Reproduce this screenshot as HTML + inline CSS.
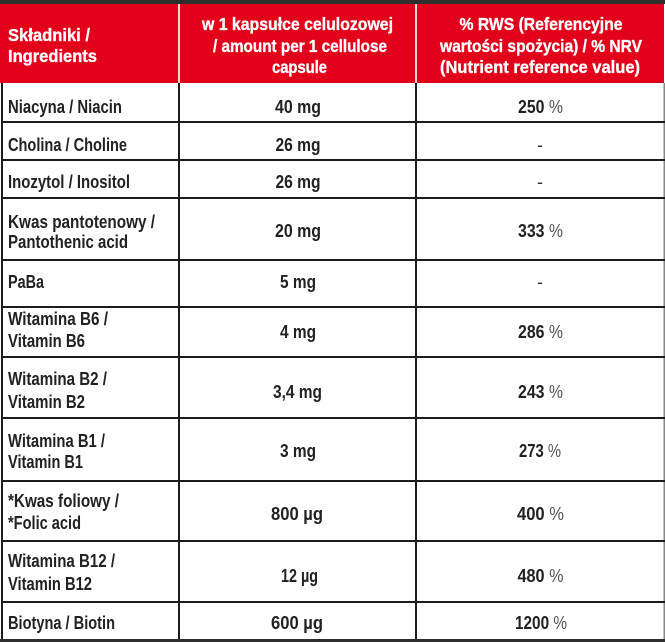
<!DOCTYPE html>
<html>
<head>
<meta charset="utf-8">
<style>
  html,body{margin:0;padding:0;background:#fff;}
  svg{display:block;}
  .h{font-family:"Liberation Sans",sans-serif;font-weight:bold;font-size:17.5px;fill:#fff;stroke:#fff;stroke-width:0.35px;}
  .b{font-family:"Liberation Sans",sans-serif;font-weight:bold;font-size:18px;fill:#222;}
  .p{font-weight:normal;fill:#555;}
  .d{font-family:"Liberation Sans",sans-serif;font-weight:normal;font-size:18px;fill:#333;}
</style>
</head>
<body>
<svg width="665" height="642" viewBox="0 0 665 642" xmlns="http://www.w3.org/2000/svg">
  <rect x="0" y="0" width="665" height="642" fill="#fff"/>
  <!-- header -->
  <rect x="0" y="0" width="664" height="83" fill="#e2001a"/>
  <rect x="0" y="0" width="665" height="4" fill="#2e2e2e"/>
  <rect x="178" y="4" width="2" height="79" fill="#f7d3d3"/>
  <rect x="415" y="4" width="2" height="79" fill="#f7d3d3"/>

  <text class="h" x="8" y="41" textLength="82" lengthAdjust="spacingAndGlyphs">Składniki /</text>
  <text class="h" x="8" y="62" textLength="89" lengthAdjust="spacingAndGlyphs">Ingredients</text>

  <text class="h" x="297.5" y="30" text-anchor="middle" textLength="191" lengthAdjust="spacingAndGlyphs">w 1 kapsułce celulozowej</text>
  <text class="h" x="300" y="52" text-anchor="middle" textLength="174" lengthAdjust="spacingAndGlyphs">/ amount per 1 cellulose</text>
  <text class="h" x="299.5" y="73" text-anchor="middle" textLength="55" lengthAdjust="spacingAndGlyphs">capsule</text>

  <text class="h" x="541" y="30" text-anchor="middle" textLength="163" lengthAdjust="spacingAndGlyphs">% RWS (Referencyjne</text>
  <text class="h" x="541" y="52" text-anchor="middle" textLength="202" lengthAdjust="spacingAndGlyphs">wartości spożycia) / % NRV</text>
  <text class="h" x="540" y="73" text-anchor="middle" textLength="200" lengthAdjust="spacingAndGlyphs">(Nutrient reference value)</text>

  <!-- grid -->
  <g fill="#1c1c1c">
    <rect x="1" y="83" width="2" height="559"/>
    <rect x="178" y="83" width="2" height="559"/>
    <rect x="415" y="83" width="2" height="559"/>
    <rect x="663.5" y="83" width="1.5" height="559" fill="#888"/>
    <rect x="1" y="121" width="664" height="2"/>
    <rect x="1" y="159" width="664" height="2"/>
    <rect x="1" y="197" width="664" height="2"/>
    <rect x="1" y="259" width="664" height="2"/>
    <rect x="1" y="306" width="664" height="2"/>
    <rect x="1" y="356" width="664" height="2"/>
    <rect x="1" y="417" width="664" height="2"/>
    <rect x="1" y="480" width="664" height="2"/>
    <rect x="1" y="540" width="664" height="2"/>
    <rect x="1" y="601" width="664" height="2"/>
    <rect x="0" y="639" width="665" height="3" fill="#2e2e2e"/>
  </g>

  <!-- rows: column 1 -->
  <text class="b" x="8" y="113" textLength="114" lengthAdjust="spacingAndGlyphs">Niacyna / Niacin</text>
  <text class="b" x="8" y="151" textLength="119" lengthAdjust="spacingAndGlyphs">Cholina / Choline</text>
  <text class="b" x="8" y="188" textLength="122" lengthAdjust="spacingAndGlyphs">Inozytol / Inositol</text>
  <text class="b" x="8" y="228" textLength="147" lengthAdjust="spacingAndGlyphs">Kwas pantotenowy /</text>
  <text class="b" x="8" y="248" textLength="120" lengthAdjust="spacingAndGlyphs">Pantothenic acid</text>
  <text class="b" x="8" y="288" textLength="36" lengthAdjust="spacingAndGlyphs">PaBa</text>
  <text class="b" x="8" y="325" textLength="100" lengthAdjust="spacingAndGlyphs">Witamina B6 /</text>
  <text class="b" x="8" y="347" textLength="77" lengthAdjust="spacingAndGlyphs">Vitamin B6</text>
  <text class="b" x="8" y="385" textLength="99" lengthAdjust="spacingAndGlyphs">Witamina B2 /</text>
  <text class="b" x="8" y="408" textLength="77" lengthAdjust="spacingAndGlyphs">Vitamin B2</text>
  <text class="b" x="8" y="447" textLength="97" lengthAdjust="spacingAndGlyphs">Witamina B1 /</text>
  <text class="b" x="8" y="468" textLength="75" lengthAdjust="spacingAndGlyphs">Vitamin B1</text>
  <text class="b" x="8" y="507" textLength="111" lengthAdjust="spacingAndGlyphs">*Kwas foliowy /</text>
  <text class="b" x="8" y="529" textLength="73" lengthAdjust="spacingAndGlyphs">*Folic acid</text>
  <text class="b" x="8" y="567" textLength="107" lengthAdjust="spacingAndGlyphs">Witamina B12 /</text>
  <text class="b" x="8" y="590" textLength="84" lengthAdjust="spacingAndGlyphs">Vitamin B12</text>
  <text class="b" x="8" y="629" textLength="107" lengthAdjust="spacingAndGlyphs">Biotyna / Biotin</text>

  <!-- column 2 -->
  <text class="b" x="298" y="113" text-anchor="middle" textLength="46" lengthAdjust="spacingAndGlyphs">40 mg</text>
  <text class="b" x="298" y="151" text-anchor="middle" textLength="45" lengthAdjust="spacingAndGlyphs">26 mg</text>
  <text class="b" x="298" y="188" text-anchor="middle" textLength="45" lengthAdjust="spacingAndGlyphs">26 mg</text>
  <text class="b" x="298" y="237" text-anchor="middle" textLength="46" lengthAdjust="spacingAndGlyphs">20 mg</text>
  <text class="b" x="298" y="288" text-anchor="middle" textLength="36" lengthAdjust="spacingAndGlyphs">5 mg</text>
  <text class="b" x="298" y="338" text-anchor="middle" textLength="36" lengthAdjust="spacingAndGlyphs">4 mg</text>
  <text class="b" x="297.5" y="398" text-anchor="middle" textLength="49" lengthAdjust="spacingAndGlyphs">3,4 mg</text>
  <text class="b" x="298" y="457" text-anchor="middle" textLength="36" lengthAdjust="spacingAndGlyphs">3 mg</text>
  <text class="b" x="297" y="520" text-anchor="middle" textLength="52" lengthAdjust="spacingAndGlyphs">800 µg</text>
  <text class="b" x="299.5" y="582" text-anchor="middle" textLength="37" lengthAdjust="spacingAndGlyphs">12 µg</text>
  <text class="b" x="297" y="629" text-anchor="middle" textLength="52" lengthAdjust="spacingAndGlyphs">600 µg</text>

  <!-- column 3 -->
  <text class="b" x="540.5" y="113" text-anchor="middle" textLength="45" lengthAdjust="spacingAndGlyphs">250 <tspan class="p">%</tspan></text>
  <text class="d" x="540" y="151" text-anchor="middle">-</text>
  <text class="d" x="540" y="188" text-anchor="middle">-</text>
  <text class="b" x="540.5" y="237" text-anchor="middle" textLength="45" lengthAdjust="spacingAndGlyphs">333 <tspan class="p">%</tspan></text>
  <text class="d" x="540" y="288" text-anchor="middle">-</text>
  <text class="b" x="540.5" y="338" text-anchor="middle" textLength="45" lengthAdjust="spacingAndGlyphs">286 <tspan class="p">%</tspan></text>
  <text class="b" x="540.5" y="398" text-anchor="middle" textLength="45" lengthAdjust="spacingAndGlyphs">243 <tspan class="p">%</tspan></text>
  <text class="b" x="540" y="457" text-anchor="middle" textLength="42" lengthAdjust="spacingAndGlyphs">273 <tspan class="p">%</tspan></text>
  <text class="b" x="540.5" y="520" text-anchor="middle" textLength="47" lengthAdjust="spacingAndGlyphs">400 <tspan class="p">%</tspan></text>
  <text class="b" x="540.5" y="582" text-anchor="middle" textLength="46" lengthAdjust="spacingAndGlyphs">480 <tspan class="p">%</tspan></text>
  <text class="b" x="541" y="629" text-anchor="middle" textLength="52" lengthAdjust="spacingAndGlyphs">1200 <tspan class="p">%</tspan></text>
</svg>
</body>
</html>
